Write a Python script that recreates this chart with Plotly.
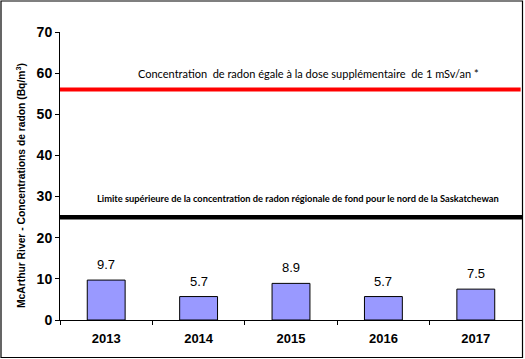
import plotly.graph_objects as go

years = ["2013", "2014", "2015", "2016", "2017"]
values = [9.7, 5.7, 8.9, 5.7, 7.5]
dose_level = 56
background_level = 25
dose_label = "Concentration  de radon égale à la dose supplémentaire  de 1 mSv/an *"
background_label = "Limite supérieure de la concentration de radon régionale de fond pour le nord de la Saskatchewan"
y_title = "McArthur River - Concentrations de radon (Bq/m<sup>3</sup>)"
y_ticks = [0, 10, 20, 30, 40, 50, 60, 70]

W, H = 525, 359
ml, mr, mt, mb = 60, 3, 32, 39
pw, ph = W - ml - mr, H - mt - mb

fig = go.Figure()
fig.add_trace(go.Bar(
    x=years, y=values, width=0.41,
    marker=dict(color="#9999FF", line=dict(color="black", width=1)),
))
for i, v in enumerate(values):
    fig.add_annotation(x=i, y=v, text=f"{v:.1f}", showarrow=False,
                       yanchor="bottom", yshift=6,
                       font=dict(family="Liberation Sans, Arial", size=13, color="black"))

fig.add_shape(type="line", xref="paper", yref="y", x0=0, x1=0.997,
              y0=dose_level, y1=dose_level, line=dict(color="#FF0000", width=4))
fig.add_shape(type="line", xref="paper", yref="y", x0=0, x1=1,
              y0=background_level, y1=background_level, line=dict(color="black", width=4.5))

fig.add_annotation(xref="paper", yref="y", x=(308 - ml) / pw, y=dose_level + 3.8,
                   text=dose_label, showarrow=False,
                   font=dict(family="Lato", size=11, color="black"))
fig.add_annotation(xref="paper", yref="y", x=(298 - ml) / pw, y=background_level + 4.5,
                   text=background_label, showarrow=False,
                   font=dict(family="Lato", size=9.3, color="black", weight="bold"))

# y-axis title placed to match the reference
fig.add_annotation(xref="paper", yref="paper", x=(20 - ml) / pw, y=1 - (186 - mt) / ph,
                   xanchor="center", yanchor="middle",
                   text=y_title, textangle=-90, showarrow=False,
                   font=dict(family="Liberation Sans, Arial", size=10.3, color="black", weight="bold"))

# outer figure border
fig.add_shape(type="rect", xref="paper", yref="paper", layer="above",
              x0=(1 - ml) / pw, x1=(522.5 - ml) / pw,
              y0=-(357.5 - mt - ph) / ph, y1=1 + (mt - 1) / ph,
              line=dict(color="black", width=1.2), fillcolor="rgba(0,0,0,0)")

fig.update_layout(
    width=W, height=H,
    margin=dict(l=ml, r=mr, t=mt, b=mb),
    paper_bgcolor="white", plot_bgcolor="white",
    showlegend=False,
    bargap=0.59,
)
fig.update_xaxes(
    type="category", range=[-0.5, len(years) - 0.5],
    showline=True, linecolor="black", linewidth=1,
    ticks="outside", ticklen=4, tickcolor="black", tickson="boundaries",
    ticklabelstandoff=6,
    tickfont=dict(family="Liberation Sans, Arial", size=13, color="black", weight="bold"),
    showgrid=False, zeroline=False,
)
fig.update_yaxes(
    range=[0, 70], tickvals=y_ticks, showline=True, linecolor="black", linewidth=1,
    ticks="outside", ticklen=4, tickcolor="black",
    tickfont=dict(family="Liberation Sans, Arial", size=14, color="black", weight="bold"),
    showgrid=False, zeroline=False,
)

fig.write_html("out.html", config={"displayModeBar": False})
with open("out.html", "r", encoding="utf-8") as f:
    html = f.read()
html = html.replace("<body>", '<body style="margin:0;padding:0;overflow:hidden">', 1)
html = html.replace("<head>", '<head><style>html,body{margin:0;padding:0;overflow:hidden}</style>', 1)
with open("out.html", "w", encoding="utf-8") as f:
    f.write(html)
